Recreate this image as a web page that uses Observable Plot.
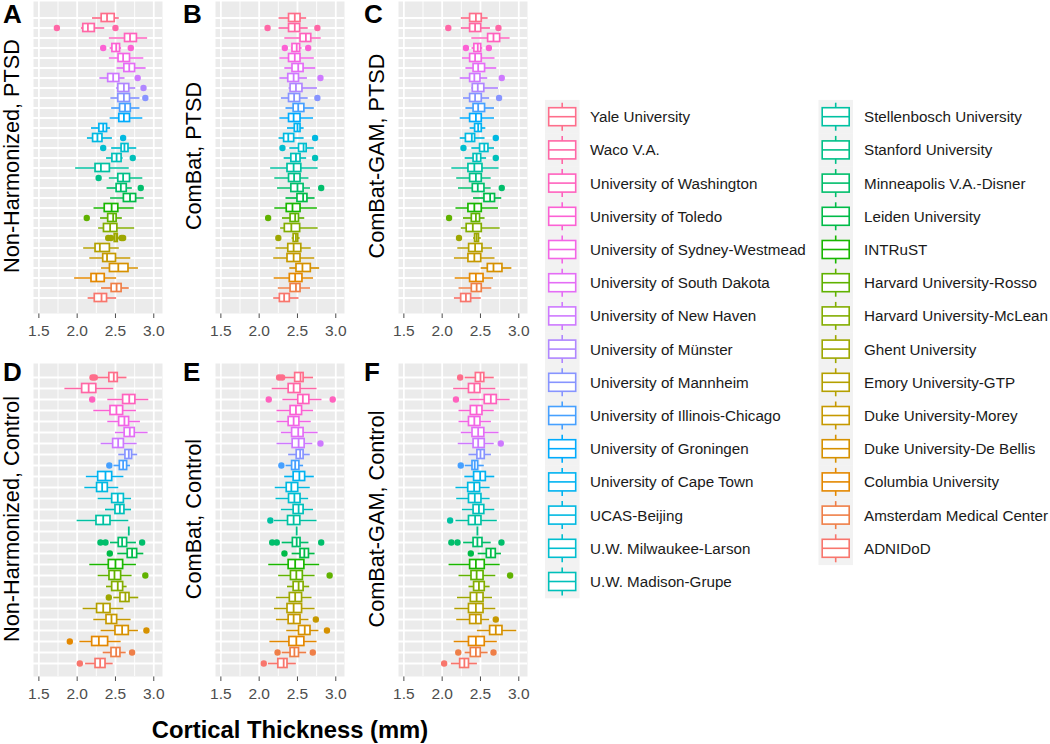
<!DOCTYPE html>
<html>
<head>
<meta charset="utf-8">
<script src="https://cdn.jsdelivr.net/npm/d3@7"></script>
<script src="https://cdn.jsdelivr.net/npm/@observablehq/plot@0.6"></script>
<style>
  html, body { margin: 0; padding: 0; background: #fff; }
  #root { position: relative; width: 1050px; height: 744px; overflow: hidden; font-family: "Liberation Sans", Arial, sans-serif; }
  .pnl { position: absolute; }
  #overlay { position: absolute; left: 0; top: 0; pointer-events: none; }
</style>
</head>
<body>
<div id="root"></div>
<script>
// ---------- sites (top-to-bottom / legend order) ----------
const sites = ["Yale University","Waco V.A.","University of Washington","University of Toledo","University of Sydney-Westmead","University of South Dakota","University of New Haven","University of Münster","University of Mannheim","University of Illinois-Chicago","University of Groningen","University of Cape Town","UCAS-Beijing","U.W. Milwaukee-Larson","U.W. Madison-Grupe","Stellenbosch University","Stanford University","Minneapolis V.A.-Disner","Leiden University","INTRuST","Harvard University-Rosso","Harvard University-McLean","Ghent University","Emory University-GTP","Duke University-Morey","Duke University-De Bellis","Columbia University","Amsterdam Medical Center","ADNIDoD"];
const controlSites = sites.filter(s => s !== "University of Münster" && s !== "University of Groningen");

const majorTicks = [1.5, 2.0, 2.5, 3.0];
const minorTicks = [1.75, 2.25, 2.75];
const panelTitles = ["Non-Harmonized, PTSD", "ComBat, PTSD", "ComBat-GAM, PTSD", "Non-Harmonized, Control", "ComBat, Control", "ComBat-GAM, Control"];
const panelLetters = ["A", "B", "C", "D", "E", "F"];
const axisTitle = "Cortical Thickness (mm)";

// ---------- box statistics: [site, lower whisker, Q1, median, Q3, upper whisker] ----------
const statsA = [
["Yale University",2.20,2.32,2.39,2.49,2.55],["Waco V.A.",2.055,2.08,2.14,2.23,2.36],["University of Washington",2.42,2.625,2.69,2.78,2.92],
["University of Toledo",2.43,2.46,2.51,2.56,2.58],["University of Sydney-Westmead",2.42,2.54,2.60,2.69,2.87],["University of South Dakota",2.52,2.616,2.68,2.756,2.90],
["University of New Haven",2.296,2.405,2.47,2.55,2.625],["University of Münster",2.515,2.537,2.61,2.68,2.765],["University of Mannheim",2.44,2.537,2.61,2.69,2.82],
["University of Illinois-Chicago",2.45,2.56,2.625,2.70,2.82],["University of Groningen",2.43,2.55,2.61,2.69,2.857],["University of Cape Town",2.187,2.29,2.34,2.39,2.436],
["UCAS-Beijing",2.134,2.208,2.265,2.33,2.46],["U.W. Milwaukee-Larson",2.45,2.58,2.617,2.67,2.778],["U.W. Madison-Grupe",2.384,2.46,2.515,2.58,2.60],
["Stellenbosch University",1.98,2.24,2.31,2.427,2.68],["Stanford University",2.42,2.537,2.60,2.69,2.857],["Minneapolis V.A.-Disner",2.39,2.515,2.57,2.647,2.72],
["Leiden University",2.436,2.61,2.69,2.77,2.875],["INTRuST",2.22,2.36,2.45,2.537,2.745],["Harvard University-Rosso",2.305,2.405,2.47,2.515,2.59],
["Harvard University-McLean",2.28,2.35,2.43,2.525,2.75],["Ghent University",2.47,2.49,2.51,2.53,2.56],["Emory University-GTP",2.085,2.24,2.296,2.427,2.55],
["Duke University-Morey",2.165,2.34,2.39,2.507,2.70],["Duke University-De Bellis",2.318,2.428,2.537,2.67,2.80],["Columbia University",1.967,2.187,2.25,2.36,2.515],
["Amsterdam Medical Center",2.318,2.45,2.515,2.58,2.68],["ADNIDoD",2.143,2.23,2.318,2.39,2.515]];
const outA = [["Waco V.A.",1.735],["Waco V.A.",2.50],["University of Toledo",2.34],["University of Toledo",2.70],["University of New Haven",2.79],["University of Münster",2.866],["University of Mannheim",2.89],["UCAS-Beijing",2.60],["U.W. Milwaukee-Larson",2.34],["U.W. Madison-Grupe",2.726],["Stanford University",2.28],["Minneapolis V.A.-Disner",2.83],["Harvard University-Rosso",2.125],["Ghent University",2.405],["Ghent University",2.44],["Ghent University",2.58],["Ghent University",2.60]];

const statsB = [
["Yale University",2.26,2.39,2.465,2.54,2.62],["Waco V.A.",2.26,2.39,2.465,2.535,2.64],["University of Washington",2.335,2.54,2.61,2.68,2.81],
["University of Toledo",2.42,2.435,2.49,2.535,2.56],["University of Sydney-Westmead",2.27,2.39,2.465,2.54,2.72],["University of South Dakota",2.335,2.435,2.51,2.58,2.74],
["University of New Haven",2.27,2.38,2.45,2.52,2.63],["University of Münster",2.39,2.41,2.48,2.565,2.76],["University of Mannheim",2.29,2.39,2.456,2.535,2.64],
["University of Illinois-Chicago",2.35,2.45,2.51,2.59,2.72],["University of Groningen",2.27,2.39,2.45,2.54,2.71],["University of Cape Town",2.37,2.465,2.50,2.54,2.587],
["UCAS-Beijing",2.26,2.326,2.38,2.457,2.587],["U.W. Milwaukee-Larson",2.40,2.52,2.58,2.62,2.72],["U.W. Madison-Grupe",2.326,2.42,2.48,2.54,2.62],
["Stellenbosch University",2.15,2.37,2.45,2.55,2.77],["Stanford University",2.204,2.39,2.456,2.54,2.65],["Minneapolis V.A.-Disner",2.24,2.42,2.50,2.58,2.67],
["Leiden University",2.35,2.50,2.574,2.63,2.73],["INTRuST",2.204,2.36,2.435,2.54,2.76],["Harvard University-Rosso",2.304,2.41,2.47,2.52,2.595],
["Harvard University-McLean",2.28,2.335,2.42,2.535,2.77],["Ghent University",2.43,2.45,2.48,2.51,2.535],["Emory University-GTP",2.22,2.38,2.45,2.55,2.68],
["Duke University-Morey",2.19,2.37,2.45,2.54,2.726],["Duke University-De Bellis",2.40,2.487,2.565,2.674,2.79],["Columbia University",2.196,2.40,2.47,2.565,2.71],
["Amsterdam Medical Center",2.25,2.41,2.48,2.54,2.67],["ADNIDoD",2.19,2.27,2.326,2.40,2.52]];
const outB = [["Waco V.A.",2.11],["Waco V.A.",2.76],["University of Toledo",2.335],["University of Toledo",2.64],["University of New Haven",2.80],["University of Mannheim",2.76],["UCAS-Beijing",2.73],["U.W. Milwaukee-Larson",2.304],["U.W. Madison-Grupe",2.73],["Minneapolis V.A.-Disner",2.81],["Harvard University-Rosso",2.117],["Ghent University",2.25]];

const statsC = [
["Yale University",2.25,2.365,2.44,2.517,2.60],["Waco V.A.",2.25,2.365,2.43,2.51,2.63],["University of Washington",2.387,2.60,2.67,2.757,2.887],
["University of Toledo",2.39,2.42,2.465,2.51,2.53],["University of Sydney-Westmead",2.265,2.365,2.43,2.517,2.69],["University of South Dakota",2.31,2.41,2.47,2.56,2.713],
["University of New Haven",2.235,2.365,2.42,2.50,2.595],["University of Münster",2.387,2.40,2.465,2.55,2.735],["University of Mannheim",2.278,2.365,2.43,2.517,2.62],
["University of Illinois-Chicago",2.31,2.41,2.47,2.56,2.683],["University of Groningen",2.235,2.365,2.44,2.517,2.683],["University of Cape Town",2.365,2.43,2.47,2.517,2.57],
["UCAS-Beijing",2.235,2.31,2.387,2.43,2.56],["U.W. Milwaukee-Larson",2.387,2.495,2.55,2.604,2.683],["U.W. Madison-Grupe",2.30,2.41,2.45,2.51,2.58],
["Stellenbosch University",2.126,2.343,2.42,2.526,2.743],["Stanford University",2.19,2.365,2.44,2.517,2.64],["Minneapolis V.A.-Disner",2.213,2.40,2.465,2.552,2.64],
["Leiden University",2.41,2.552,2.626,2.69,2.778],["INTRuST",2.18,2.343,2.42,2.517,2.735],["Harvard University-Rosso",2.278,2.387,2.44,2.495,2.56],
["Harvard University-McLean",2.25,2.32,2.40,2.517,2.757],["Ghent University",2.41,2.43,2.45,2.48,2.51],["Emory University-GTP",2.204,2.352,2.43,2.526,2.657],
["Duke University-Morey",2.16,2.343,2.42,2.51,2.69],["Duke University-De Bellis",2.51,2.596,2.67,2.787,2.91],["Columbia University",2.17,2.365,2.44,2.54,2.67],
["Amsterdam Medical Center",2.22,2.387,2.45,2.517,2.648],["ADNIDoD",2.16,2.248,2.31,2.378,2.51]];
const outC = [["Waco V.A.",2.08],["Waco V.A.",2.735],["University of Toledo",2.31],["University of Toledo",2.61],["University of New Haven",2.778],["University of Mannheim",2.743],["UCAS-Beijing",2.70],["U.W. Milwaukee-Larson",2.278],["U.W. Madison-Grupe",2.70],["Minneapolis V.A.-Disner",2.778],["Harvard University-Rosso",2.09],["Ghent University",2.22]];

const statsD = [
["Yale University",2.26,2.42,2.478,2.53,2.65],["Waco V.A.",1.84,2.065,2.15,2.25,2.478],["University of Washington",2.40,2.60,2.68,2.76,2.935],
["University of Toledo",2.217,2.435,2.513,2.60,2.774],["University of Sydney-Westmead",2.40,2.548,2.617,2.678,2.826],["University of South Dakota",2.50,2.62,2.687,2.752,2.926],
["University of New Haven",2.313,2.47,2.535,2.61,2.783],["University of Mannheim",2.543,2.63,2.674,2.717,2.79],["University of Illinois-Chicago",2.48,2.557,2.60,2.652,2.696],
["University of Cape Town",2.12,2.274,2.37,2.457,2.61],["UCAS-Beijing",2.10,2.26,2.326,2.40,2.543],["U.W. Milwaukee-Larson",2.274,2.457,2.53,2.61,2.71],
["U.W. Madison-Grupe",2.37,2.50,2.557,2.617,2.71],["Stellenbosch University",2.0,2.252,2.34,2.435,2.674],["Stanford University",2.674,2.674,2.674,2.674,2.674],
["Minneapolis V.A.-Disner",2.435,2.543,2.587,2.652,2.774],["Leiden University",2.53,2.66,2.717,2.783,2.87],["INTRuST",2.165,2.413,2.50,2.60,2.774],
["Harvard University-Rosso",2.274,2.422,2.487,2.574,2.717],["Harvard University-McLean",2.383,2.457,2.53,2.60,2.652],["Ghent University",2.478,2.565,2.63,2.683,2.804],
["Emory University-GTP",2.078,2.26,2.34,2.435,2.61],["Duke University-Morey",2.217,2.383,2.448,2.522,2.704],["Duke University-De Bellis",2.313,2.50,2.587,2.674,2.80],
["Columbia University",2.035,2.196,2.283,2.404,2.574],["Amsterdam Medical Center",2.34,2.448,2.509,2.565,2.64],["ADNIDoD",2.11,2.24,2.30,2.37,2.47]];
const outD = [["Yale University",2.20],["Yale University",2.23],["University of Washington",2.196],["University of Illinois-Chicago",2.42],["Minneapolis V.A.-Disner",2.304],["Minneapolis V.A.-Disner",2.37],["Minneapolis V.A.-Disner",2.848],["Leiden University",2.426],["Harvard University-Rosso",2.89],["Ghent University",2.413],["Duke University-De Bellis",2.904],["Columbia University",1.904],["Amsterdam Medical Center",2.717],["ADNIDoD",2.035]];

const statsE = [
["Yale University",2.32,2.47,2.54,2.58,2.71],["Waco V.A.",2.17,2.385,2.45,2.54,2.755],["University of Washington",2.31,2.51,2.57,2.655,2.82],
["University of Toledo",2.233,2.41,2.48,2.56,2.71],["University of Sydney-Westmead",2.233,2.385,2.45,2.525,2.68],["University of South Dakota",2.29,2.43,2.51,2.58,2.77],
["University of New Haven",2.233,2.437,2.515,2.594,2.70],["University of Mannheim",2.385,2.49,2.535,2.58,2.667],["University of Illinois-Chicago",2.35,2.43,2.47,2.525,2.58],
["University of Cape Town",2.333,2.45,2.525,2.60,2.72],["UCAS-Beijing",2.21,2.36,2.42,2.51,2.667],["U.W. Milwaukee-Larson",2.22,2.39,2.46,2.54,2.646],
["U.W. Madison-Grupe",2.29,2.45,2.515,2.58,2.71],["Stellenbosch University",2.20,2.377,2.45,2.537,2.755],["Stanford University",2.49,2.49,2.49,2.49,2.49],
["Minneapolis V.A.-Disner",2.30,2.44,2.49,2.54,2.65],["Leiden University",2.43,2.54,2.59,2.65,2.73],["INTRuST",2.125,2.385,2.47,2.59,2.79],
["Harvard University-Rosso",2.255,2.415,2.485,2.57,2.73],["Harvard University-McLean",2.37,2.45,2.515,2.58,2.66],["Ghent University",2.225,2.40,2.47,2.56,2.69],
["Emory University-GTP",2.20,2.37,2.45,2.56,2.73],["Duke University-Morey",2.225,2.385,2.45,2.54,2.65],["Duke University-De Bellis",2.36,2.52,2.595,2.67,2.78],
["Columbia University",2.14,2.395,2.485,2.59,2.755],["Amsterdam Medical Center",2.30,2.41,2.46,2.52,2.62],["ADNIDoD",2.12,2.25,2.32,2.37,2.485]];
const outE = [["Yale University",2.26],["Yale University",2.30],["University of Washington",2.125],["University of Washington",2.96],["University of New Haven",2.80],["University of Illinois-Chicago",2.29],["Stellenbosch University",2.146],["Minneapolis V.A.-Disner",2.17],["Minneapolis V.A.-Disner",2.23],["Minneapolis V.A.-Disner",2.81],["Leiden University",2.33],["Harvard University-Rosso",2.92],["Duke University-Morey",2.74],["Duke University-De Bellis",2.885],["Amsterdam Medical Center",2.24],["Amsterdam Medical Center",2.70],["ADNIDoD",2.06]];

const statsF = [
["Yale University",2.30,2.44,2.50,2.55,2.68],["Waco V.A.",2.15,2.35,2.42,2.50,2.70],["University of Washington",2.365,2.556,2.635,2.713,2.887],
["University of Toledo",2.22,2.374,2.45,2.526,2.68],["University of Sydney-Westmead",2.22,2.35,2.42,2.50,2.643],["University of South Dakota",2.25,2.396,2.47,2.55,2.743],
["University of New Haven",2.21,2.41,2.47,2.556,2.68],["University of Mannheim",2.35,2.46,2.50,2.556,2.643],["University of Illinois-Chicago",2.30,2.396,2.425,2.47,2.55],
["University of Cape Town",2.296,2.417,2.496,2.57,2.687],["UCAS-Beijing",2.18,2.34,2.417,2.496,2.626],["U.W. Milwaukee-Larson",2.19,2.35,2.426,2.513,2.626],
["U.W. Madison-Grupe",2.265,2.41,2.48,2.55,2.687],["Stellenbosch University",2.18,2.35,2.43,2.513,2.72],["Stanford University",2.46,2.46,2.46,2.46,2.46],
["Minneapolis V.A.-Disner",2.28,2.41,2.46,2.526,2.64],["Leiden University",2.47,2.583,2.635,2.70,2.774],["INTRuST",2.09,2.365,2.44,2.556,2.757],
["Harvard University-Rosso",2.22,2.383,2.45,2.54,2.70],["Harvard University-McLean",2.35,2.417,2.48,2.556,2.626],["Ghent University",2.20,2.374,2.45,2.54,2.657],
["Emory University-GTP",2.165,2.35,2.44,2.54,2.70],["Duke University-Morey",2.19,2.365,2.44,2.513,2.62],["Duke University-De Bellis",2.46,2.626,2.70,2.787,2.974],
["Columbia University",2.157,2.35,2.44,2.556,2.72],["Amsterdam Medical Center",2.30,2.374,2.44,2.504,2.60],["ADNIDoD",2.12,2.235,2.29,2.35,2.46]];
const outF = [["Yale University",2.235],["University of Washington",2.18],["University of New Haven",2.765],["University of Illinois-Chicago",2.243],["Stellenbosch University",2.104],["Minneapolis V.A.-Disner",2.12],["Minneapolis V.A.-Disner",2.20],["Minneapolis V.A.-Disner",2.774],["Leiden University",2.374],["Harvard University-Rosso",2.887],["Duke University-Morey",2.70],["Amsterdam Medical Center",2.21],["Amsterdam Medical Center",2.67],["ADNIDoD",2.026]];

// ---------- ggplot2-like hue palette (polar LUV, c=100, l=65) ----------
function hclHex(h, c, l) {
  const hr = h * Math.PI / 180, U = c * Math.cos(hr), V = c * Math.sin(hr);
  const Xn = 95.047, Yn = 100, Zn = 108.883, t = Xn + 15 * Yn + 3 * Zn;
  const un = 4 * Xn / t, vn = 9 * Yn / t;
  const Y = l > 8 ? Yn * Math.pow((l + 16) / 116, 3) : Yn * l / 903.3;
  const u = U / (13 * l) + un, v = V / (13 * l) + vn;
  const X = 9 * Y * u / (4 * v), Z = -X / 3 - 5 * Y + 3 * Y / v;
  const x = X / 100, y = Y / 100, z = Z / 100;
  const lin = [3.240479 * x - 1.537150 * y - 0.498535 * z, -0.969256 * x + 1.875992 * y + 0.041556 * z, 0.055648 * x - 0.204043 * y + 1.057311 * z];
  const g = lin.map(a => { const s = a <= 0.0031308 ? 12.92 * a : 1.055 * Math.pow(a, 1 / 2.4) - 0.055; return Math.round(Math.max(0, Math.min(1, s)) * 255); });
  return "#" + g.map(a => a.toString(16).padStart(2, "0")).join("");
}
const nS = sites.length;
const palette = sites.map((s, i) => hclHex(15 + (nS - 1 - i) * 360 / nS, 100, 65));

// ---------- layout ----------
const ML = 6, MR = 18, MB = 34, PWID = 129;
const XDOM = [1.43, 3.114];
const panelPos = [
  {left: 33, top: 1, h: 312, sites: sites, stats: statsA, outs: outA},
  {left: 215, top: 1, h: 312, sites: sites, stats: statsB, outs: outB},
  {left: 397.5, top: 1, h: 312, sites: sites, stats: statsC, outs: outC},
  {left: 33, top: 362.5, h: 313, sites: controlSites, stats: statsD, outs: outD},
  {left: 215, top: 362.5, h: 313, sites: controlSites, stats: statsE, outs: outE},
  {left: 397.5, top: 362.5, h: 313, sites: controlSites, stats: statsF, outs: outF}
];

const root = document.getElementById("root");

panelPos.forEach((p, k) => {
  const data = p.stats.map(([site, lo, q1, med, q3, hi]) => ({site, lo, q1, med, q3, hi}));
  const od = p.outs.map(([site, v]) => ({site, v}));
  const MT = 2;
  const chart = Plot.plot({
    width: ML + PWID + MR,
    height: MT + p.h + MB,
    marginLeft: ML, marginRight: MR, marginTop: MT, marginBottom: MB,
    style: {fontFamily: "'Liberation Sans', Arial, sans-serif", fontSize: "15.5px", color: "#4d4d4d", background: "transparent", overflow: "visible"},
    x: {domain: XDOM, ticks: 4, tickFormat: d3.format(".1f"), tickSize: 5, tickPadding: 6, label: null},
    y: {type: "band", domain: p.sites, paddingInner: 0.1, paddingOuter: 0.15, axis: null},
    color: {domain: sites, range: palette},
    marks: [
      Plot.frame({fill: "#ebebeb", stroke: "none"}),
      Plot.ruleX(minorTicks, {stroke: "white", strokeWidth: 0.9}),
      Plot.ruleX(majorTicks, {stroke: "white", strokeWidth: 1.8}),
      Plot.ruleY(p.sites, {stroke: "white", strokeWidth: 1.8}),
      Plot.ruleY(data, {y: "site", x1: "lo", x2: "hi", stroke: "site", strokeWidth: 1.7}),
      Plot.barX(data, {y: "site", x1: "q1", x2: "q3", fill: "white", stroke: "site", strokeWidth: 1.7, insetTop: 0.5, insetBottom: 0.5}),
      Plot.tickX(data, {x: "med", y: "site", stroke: "site", strokeWidth: 1.8, insetTop: 0.5, insetBottom: 0.5}),
      Plot.dot(od, {x: "v", y: "site", fill: "site", stroke: "none", r: 3.2})
    ]
  });
  const wrap = document.createElement("div");
  wrap.className = "pnl";
  wrap.style.left = (p.left - ML) + "px";
  wrap.style.top = (p.top - MT) + "px";
  wrap.appendChild(chart);
  root.appendChild(wrap);
});

// ---------- overlay: titles, letters, legend ----------
const ov = d3.select(root).append("svg").attr("id", "overlay").attr("width", 1050).attr("height", 744)
  .style("font-family", "'Liberation Sans', Arial, sans-serif");

const titlePos = [[19, 156], [201, 156], [383.5, 156], [19, 519], [201, 519], [383.5, 519]];
const letterPos = [[3, 23], [183, 23], [364, 23], [3, 381], [183, 381], [364, 381]];
panelTitles.forEach((t, i) => {
  ov.append("text").attr("transform", `translate(${titlePos[i][0]},${titlePos[i][1]}) rotate(-90)`)
    .attr("text-anchor", "middle").attr("font-size", 21.7).attr("fill", "#000").text(t);
  ov.append("text").attr("x", letterPos[i][0]).attr("y", letterPos[i][1])
    .attr("font-size", 26).attr("font-weight", "bold").attr("fill", "#000").text(panelLetters[i]);
});
ov.append("text").attr("x", 290).attr("y", 738).attr("text-anchor", "middle")
  .attr("font-size", 23.8).attr("font-weight", "bold").attr("fill", "#000").text(axisTitle);

// legend
const step = 33.2, y0 = 116.7;
const cols = [{keyX: 545, textX: 590, items: sites.slice(0, 15)}, {keyX: 818.5, textX: 864, items: sites.slice(15)}];
cols.forEach(col => {
  col.items.forEach((s, j) => {
    const cy = y0 + j * step;
    const c = palette[sites.indexOf(s)];
    const g = ov.append("g");
    g.append("rect").attr("x", col.keyX).attr("y", cy - step / 2 - 0.2).attr("width", 34.5).attr("height", step + 0.4).attr("fill", "#f2f2f2");
    const cx = col.keyX + 17.2;
    g.append("line").attr("x1", cx).attr("x2", cx).attr("y1", cy - 14).attr("y2", cy + 14).attr("stroke", c).attr("stroke-width", 1.6);
    g.append("rect").attr("x", cx - 13.5).attr("y", cy - 9).attr("width", 27).attr("height", 18).attr("fill", "white").attr("stroke", c).attr("stroke-width", 1.6);
    g.append("line").attr("x1", cx - 13.5).attr("x2", cx + 13.5).attr("y1", cy).attr("y2", cy).attr("stroke", c).attr("stroke-width", 1.6);
    ov.append("text").attr("x", col.textX).attr("y", cy).attr("dy", "0.36em").attr("font-size", 15.2).attr("fill", "#1a1a1a").text(s);
  });
});
</script>
</body>
</html>
